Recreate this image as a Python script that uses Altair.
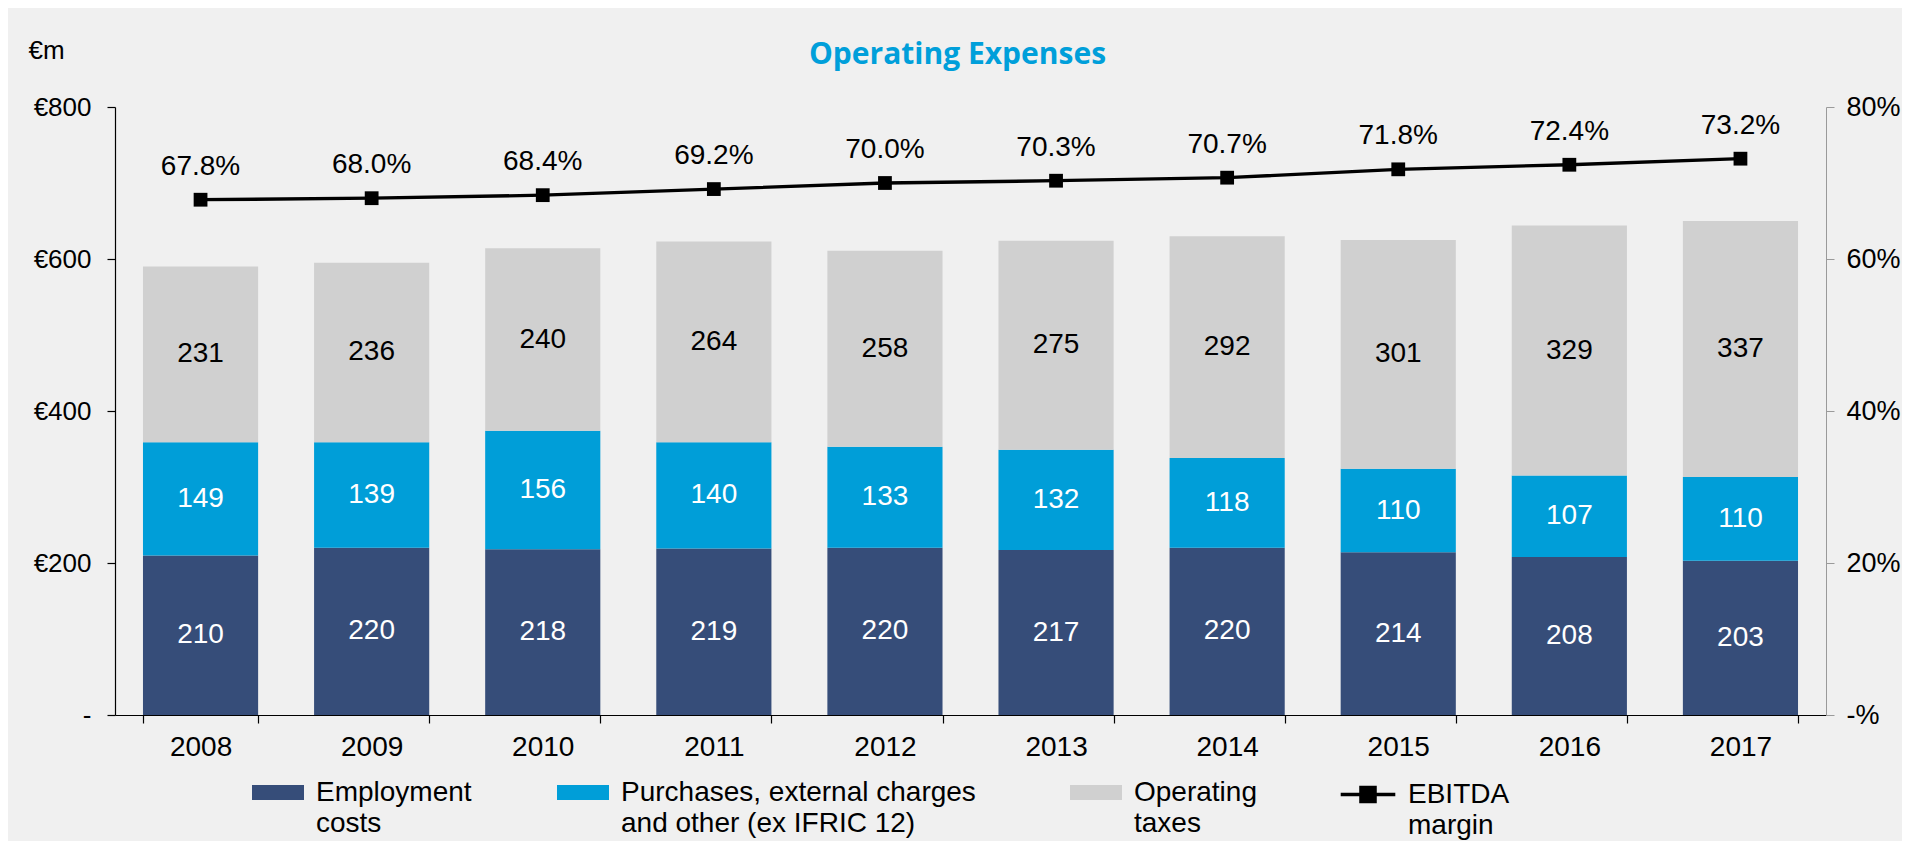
import altair as alt
import pandas as pd

years = ['2008', '2009', '2010', '2011', '2012', '2013', '2014', '2015', '2016', '2017']
employment = [210, 220, 218, 219, 220, 217, 220, 214, 208, 203]
purchases = [149, 139, 156, 140, 133, 132, 118, 110, 107, 110]
taxes = [231, 236, 240, 264, 258, 275, 292, 301, 329, 337]
ebitda = [0.678, 0.680, 0.684, 0.692, 0.700, 0.703, 0.707, 0.718, 0.724, 0.732]

series_names = ['Employment\ncosts',
                'Purchases, external charges\nand other (ex IFRIC 12)',
                'Operating\ntaxes']
line_name = 'EBITDA\nmargin'

series_colors = ['#364D79', '#009ED8', '#D0D0D0']
label_colors = ['white', 'white', 'black']
legend_x = [137, 442, 955]
LEGEND_Y = 668
LINE_LEGEND_X = 1225

FONT = 'Liberation Sans'

rows = []
for i, yr in enumerate(years):
    base = 0
    for k, vals in enumerate([employment, purchases, taxes]):
        v = vals[i]
        rows.append(dict(year=yr, k=k, series=series_names[k], value=v,
                         lo=base, hi=base + v, mid=base + v / 2))
        base += v
bars_df = pd.DataFrame(rows)
line_df = pd.DataFrame({'year': years, 'margin': ebitda, 'series': [line_name] * len(years)})

BAR_PATH = 'M-1,-0.62H1V-0.04H-1Z'
LINE_PATH = 'M-1.05,-0.33H1.05M-0.27,-0.6H0.27V-0.06H-0.27Z'

x_enc = alt.X('year:O', sort=years,
              scale=alt.Scale(paddingInner=0.327, paddingOuter=0.1635),
              axis=alt.Axis(title=None, labelAngle=0, tickBand='extent',
                            labelFontSize=28, labelFont=FONT, labelColor='black',
                            labelPadding=10, domainColor='black', tickColor='black',
                            tickSize=8, domainWidth=1.2, tickWidth=1.2))

y_scale = alt.Scale(domain=[0, 800])
y_axis = alt.Axis(values=[0, 200, 400, 600, 800], grid=False,
                  labelExpr="datum.value == 0 ? '-' : '€' + datum.value",
                  labelFontSize=26, labelFont=FONT, labelColor='black', labelPadding=16,
                  domainColor='black', tickColor='black', tickSize=8,
                  domainWidth=1.2, tickWidth=1.2,
                  title='€m', titleAngle=0, titleAlign='left', titleBaseline='middle',
                  titleX=-87, titleY=-57, titleFontSize=26, titleFont=FONT,
                  titleFontWeight='normal', titleColor='black')

r_axis = alt.Axis(orient='right', values=[0, 0.2, 0.4, 0.6, 0.8], grid=False,
                  labelExpr="datum.value == 0 ? '-%' : format(datum.value, '.0%')",
                  labelFontSize=27, labelFont=FONT, labelColor='black', labelPadding=12,
                  domainColor='#9a9a9a', tickColor='#9a9a9a', tickSize=8, title=None)

bar_layers = []
text_layers = []
for k in range(3):
    base = alt.Chart(bars_df).transform_filter(alt.datum.k == k)
    bar_layers.append(base.mark_bar().encode(
        x=x_enc,
        y=alt.Y('lo:Q', scale=y_scale, axis=y_axis),
        y2='hi:Q',
        color=alt.Color('series:N',
                        scale=alt.Scale(domain=[series_names[k]], range=[series_colors[k]]),
                        legend=alt.Legend(title=None, orient='none',
                                          legendX=legend_x[k], legendY=LEGEND_Y,
                                          symbolType=BAR_PATH, symbolSize=2704,
                                          symbolStrokeWidth=0,
                                          labelExpr="split(datum.label, '\\n')",
                                          labelFontSize=28, labelFont=FONT,
                                          labelColor='black', labelBaseline='alphabetic',
                                          labelOffset=12, labelLimit=0, padding=0))
    ))
    text_layers.append(base.mark_text(fontSize=28, font=FONT, baseline='middle',
                                      color=label_colors[k]).encode(
        x=x_enc,
        y=alt.Y('mid:Q', scale=y_scale, axis=y_axis),
        text='value:Q'
    ))

bars = alt.layer(*bar_layers, *text_layers).resolve_scale(color='independent')

line_base = alt.Chart(line_df)
y_line = alt.Y('margin:Q', scale=alt.Scale(domain=[0, 0.8]), axis=r_axis)
line = line_base.mark_line(strokeWidth=3.3).encode(
    x=x_enc, y=y_line,
    color=alt.Color('series:N', scale=alt.Scale(domain=[line_name], range=['black']),
                    legend=alt.Legend(title=None, orient='none',
                                      legendX=LINE_LEGEND_X, legendY=LEGEND_Y,
                                      symbolType=LINE_PATH, symbolSize=2704,
                                      symbolStrokeWidth=3.5, symbolFillColor='black',
                                      labelExpr="split(datum.label, '\\n')",
                                      labelFontSize=28, labelFont=FONT,
                                      labelColor='black', labelBaseline='alphabetic',
                                      labelOffset=12, labelLimit=0, padding=0))
)
pts = line_base.mark_point(shape='square', filled=True, size=190, opacity=1,
                           color='black').encode(x=x_enc, y=y_line)
lbl = line_base.mark_text(dy=-25, baseline='alphabetic', fontSize=28, font=FONT,
                          color='black').encode(
    x=x_enc, y=y_line, text=alt.Text('margin:Q', format='.1%'))

lines = alt.layer(line, pts, lbl)

chart = alt.layer(bars, lines).resolve_scale(y='independent', color='independent').properties(
    width=1711, height=608,
    autosize=alt.AutoSizeParams(type='none'),
    padding={'left': 107, 'top': 99, 'right': 76, 'bottom': 126},
    background='#F0F0F0',
    title=alt.TitleParams('Operating Expenses', font='Open Sans', fontSize=30,
                          fontWeight='bold', color='#009FDA', anchor='middle', dx=-13,
                          dy=37),
).configure(style={'guide-label': {'lineHeight': 31}}).configure_view(stroke=None)

chart.save('out.html', embed_options={'renderer': 'svg', 'actions': False})
